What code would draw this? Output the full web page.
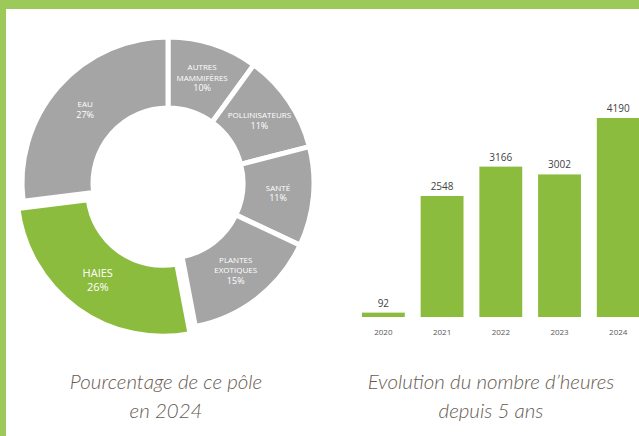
<!DOCTYPE html>
<html>
<head>
<meta charset="utf-8">
<script src="https://cdn.jsdelivr.net/npm/d3@7"></script>
<style>
  html, body { margin: 0; padding: 0; background: #fff; }
  svg { display: block; }
</style>
</head>
<body>
<svg id="chart" width="639" height="436"></svg>
<script>
// donut: share of each pole in 2024
const poleNames = [["AUTRES", "MAMMIFÈRES"], ["POLLINISATEURS"], ["SANTÉ"], ["PLANTES", "EXOTIQUES"], ["HAIES"], ["EAU"]];
const poleShares = [10, 11, 11, 15, 26, 27];
const poleHighlight = "HAIES";

// bars: hours per year
const years = ["2020", "2021", "2022", "2023", "2024"];
const hours = [92, 2548, 3166, 3002, 4190];

const d3s = window.d3;
const svg = d3s.select("#chart");
const W = 639, H = 436;

const green = "#8cbc3e";
const grey = "#a5a5a5";

// frame
svg.append("rect").attr("x", 0).attr("y", 0).attr("width", W).attr("height", 9).attr("fill", "#9dc95b");
svg.append("rect").attr("x", 0).attr("y", 0).attr("width", 6).attr("height", H).attr("fill", "#9dc95b");

// ---- donut ----
const cx = 168, cy = 183;
const rOut = 146, rIn = 75;

const pieData = poleNames.map((n, i) => ({ name: n, value: poleShares[i] }));
const pie = d3s.pie().value(d => d.value).sort(null);
const arc = d3s.arc().innerRadius(rIn).outerRadius(rOut);
const labelArc = d3s.arc().innerRadius((rIn + rOut) / 2).outerRadius((rIn + rOut) / 2);

const gPie = svg.append("g").attr("transform", `translate(${cx},${cy})`);

const slices = gPie.selectAll("g.slice")
  .data(pie(pieData))
  .join("g")
  .attr("class", "slice")
  .attr("transform", d => {
    if (d.data.name[0] !== poleHighlight) return null;
    const mid = (d.startAngle + d.endAngle) / 2;
    const off = 9;
    return `translate(${Math.sin(mid) * off},${-Math.cos(mid) * off})`;
  });

slices.append("path")
  .attr("d", arc)
  .attr("fill", d => d.data.name[0] === poleHighlight ? green : grey)
  .attr("stroke", "#fff")
  .attr("stroke-width", 5)
  .attr("stroke-linejoin", "miter");

slices.each(function (d) {
  const big = d.data.name[0] === poleHighlight;
  const [lx, ly] = labelArc.centroid(d);
  const lines = d.data.name.concat([d.data.value + "%"]);
  const fs = big ? 11 : 8;
  const lh = big ? 14 : 10.5;
  const t = d3s.select(this).append("text")
    .attr("text-anchor", "middle")
    .attr("fill", "#fff")
    .attr("font-family", "'Open Sans', 'Liberation Sans', sans-serif")
    .attr("font-size", fs);
  lines.forEach((ln, i) => {
    t.append("tspan")
      .attr("x", lx)
      .attr("y", ly + (i - (lines.length - 1) / 2) * lh + fs * 0.35)
      .attr("font-size", (i === lines.length - 1 && !big) ? 9 : fs)
      .text(ln);
  });
});

// ---- bars ----
const x = d3s.scaleBand()
  .domain(years)
  .range([354, 647.6])
  .paddingInner(0.27)
  .paddingOuter(0.135);

const y = d3s.scaleLinear()
  .domain([0, 4190])
  .range([317, 118]);

svg.append("g")
  .selectAll("rect")
  .data(years)
  .join("rect")
  .attr("x", d => x(d))
  .attr("width", x.bandwidth())
  .attr("y", (d, i) => y(hours[i]))
  .attr("height", (d, i) => y(0) - y(hours[i]))
  .attr("fill", green);

svg.append("g")
  .selectAll("text")
  .data(years)
  .join("text")
  .attr("x", d => x(d) + x.bandwidth() / 2)
  .attr("y", (d, i) => y(hours[i]) - 6)
  .attr("text-anchor", "middle")
  .attr("font-family", "'Open Sans', 'Liberation Sans', sans-serif")
  .attr("font-size", 10)
  .attr("fill", "#3f3f3f")
  .text((d, i) => hours[i]);

svg.append("g")
  .attr("transform", `translate(0,${y(0)})`)
  .call(d3s.axisBottom(x).tickSize(0).tickPadding(12))
  .call(g => g.select(".domain").remove())
  .call(g => g.selectAll("text")
    .attr("font-family", "'Open Sans', 'Liberation Sans', sans-serif")
    .attr("font-size", 8)
    .attr("fill", "#595959"));

// ---- captions ----
const captions = [
  { x: 166, lines: ["Pourcentage de ce pôle", "en 2024"] },
  { x: 491, lines: ["Evolution du nombre d’heures", "depuis 5 ans"] }
];
captions.forEach(c => {
  c.lines.forEach((ln, i) => {
    svg.append("text")
      .attr("x", c.x)
      .attr("y", 389 + i * 29)
      .attr("text-anchor", "middle")
      .attr("font-family", "Lato, 'Open Sans', sans-serif")
      .attr("font-style", "italic")
      .attr("font-weight", 300)
      .attr("font-size", 20.5)
      .attr("fill", "#665a52")
      .text(ln);
  });
});
</script>
</body>
</html>
